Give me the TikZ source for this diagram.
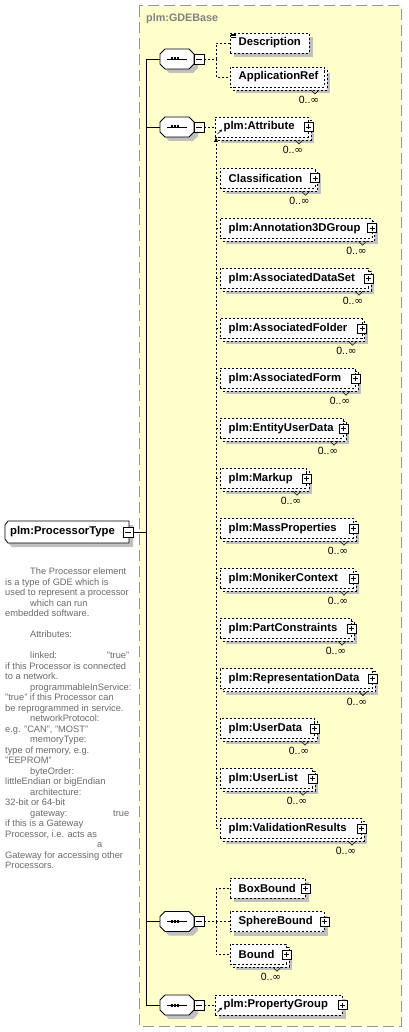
\documentclass[tikz,border=0pt]{standalone}
\usepackage{fontspec}
\setmainfont{Liberation Sans}
\newfontfamily\infsymfont{DejaVu Sans}
\usetikzlibrary{arrows.meta,calc}
\definecolor{bgyellow}{RGB}{255,255,204}
\definecolor{bgborder}{RGB}{150,150,150}
\definecolor{titlegray}{RGB}{128,128,128}
\definecolor{docgray}{RGB}{105,105,105}
\definecolor{shgray}{RGB}{192,192,192}
\newcommand\elfont{\fontsize{11.3}{13}\selectfont\bfseries}
\newcommand\titlefont{\fontsize{10.8}{13}\selectfont\bfseries}
\newcommand\multfont{\fontsize{10.5}{12}\selectfont}
\newcommand\docfont{\fontsize{9.3}{10.5}\selectfont}
\newcommand\multlabel{0..{\infsymfont ∞}}
\tikzset{
  elbox/.style={draw=black, line width=0.7pt, dash pattern=on 2pt off 2pt, fill=white, minimum height=20pt, inner sep=0pt, anchor=west},
  backbox/.style={draw=black, line width=0.7pt, dash pattern=on 2pt off 2pt, fill=white},
  eltext/.style={font=\elfont, anchor=west, inner sep=0pt},
  btnbase/.style={draw=black, solid, line width=0.6pt, fill=white, minimum size=9pt, inner sep=0pt},
  plusbtn/.style={btnbase, path picture={
      \draw[line width=0.6pt] ([yshift=-2pt]path picture bounding box.north) -- ([yshift=2pt]path picture bounding box.south);
      \draw[line width=0.6pt] ([xshift=2pt]path picture bounding box.west) -- ([xshift=-2pt]path picture bounding box.east);}},
  minusbtn/.style={btnbase, path picture={
      \draw[line width=0.6pt] ([xshift=2pt]path picture bounding box.west) -- ([xshift=-2pt]path picture bounding box.east);}},
  conn/.style={draw=black, line width=0.8pt},
  dconn/.style={draw=black, line width=0.7pt, dash pattern=on 2pt off 2pt},
  multtext/.style={font=\multfont, inner sep=0pt},
  outline/.style={draw=black, line width=0.8pt, fill=white},
}
% #1 name, #2 text, #3 left, #4 right, #5 cy, #6 multi, #7 ref arrow, #8 plus button
\newcommand\elem[8]{%
  \ifnum#6=1
    \fill[shgray] (#3+6,#5-4) rectangle (#4+6,#5+16);
    \draw[backbox] (#3+3,#5-7) rectangle (#4+3,#5+13);
  \else
    \fill[shgray] (#3+4,#5-6) rectangle (#4+4,#5+14);
  \fi
  \node[elbox, minimum width={#4-#3}] (#1) at (#3,#5) {};
  \node[eltext] (#1-t) at (#3+8.5,#5) {#2};
  \ifnum#8=1
    \node[plusbtn] (#1-b) at (#1.east) {};
  \fi
  \ifnum#6=1
    \draw[line width=0.6pt] (#4-13,#5+13) -- (#4-9,#5+17) -- (#4-5,#5+13);
    \node[multtext] (#1-m) at (#4-15,#5+23) {\multlabel};
  \fi
  \ifnum#7=1
    \draw[line width=0.7pt, -{Stealth[length=3pt,width=3pt]}] (#3+2.5,#5+7) -- (#3+7,#5+2.5);
  \fi
}
% sequence compositor: #1 name, #2 cy
\newcommand\seqc[2]{%
  \fill[shgray] (164,#2-1) -- (169,#2-6) -- (193,#2-6) -- (198,#2-1) -- (198,#2+9) -- (193,#2+14) -- (169,#2+14) -- (164,#2+9) -- cycle;
  \node[minimum width=34pt, minimum height=20pt, inner sep=0pt] (#1) at (177,#2) {};
  \draw[outline] (160,#2-5) -- (165,#2-10) -- (189,#2-10) -- (194,#2-5) -- (194,#2+5) -- (189,#2+10) -- (165,#2+10) -- (160,#2+5) -- cycle;
  \draw[line width=0.8pt] (167,#2) -- (187,#2);
  \fill (171,#2-1.5) rectangle (173,#2+1.5);
  \fill (174,#2-1.5) rectangle (176,#2+1.5);
  \fill (177,#2-1.5) rectangle (179,#2+1.5);
  \node[minusbtn, minimum size=10pt] (#1-b) at (199,#2) {};
}
\begin{document}
\begin{tikzpicture}[x=1pt,y=-1pt]
\useasboundingbox (0,0) rectangle (408,1032);
% background group
\fill[bgyellow] (139,6) rectangle (401,1026);
\draw[bgborder, line width=1pt, dash pattern=on 11pt off 5pt] (139,6) rectangle (401,1026);
\node[font=\titlefont, text=titlegray, anchor=west, inner sep=0pt] (title) at (146,19) {plm:GDEBase};

% root element
\fill[shgray] (8,529) -- (12,525) -- (133,525) -- (133,547) -- (12,547) -- (8,543) -- cycle;
\node[minimum width=124pt, minimum height=22pt, inner sep=0pt, anchor=west] (ptype) at (5,532) {};
\draw[outline] (5,525) -- (8,521) -- (129,521) -- (129,543) -- (8,543) -- (5,539) -- cycle;
\node[eltext] (ptype-t) at (10,532) {plm:ProcessorType};
\node[minusbtn, minimum size=10pt] (ptype-b) at (128,532) {};

% documentation
\node[anchor=north west, align=left, inner sep=0pt, font=\docfont, text=docgray] (doc) at (5,567.6) {%
\makebox[124pt][l]{\hspace*{25pt}The Processor element}\\
is a type of GDE which is\\
used to represent a processor\\
\hspace*{25pt}which can run\\
embedded software.\\
\mbox{}\\
\hspace*{25pt}Attributes:\\
\mbox{}\\
\makebox[124pt][l]{\hspace*{25pt}linked:\hfill"true"}\\
if this Processor is connected\\
to a network.\\
\hspace*{25pt}programmableInService:\\
"true" if this Processor can\\
be reprogrammed in service.\\
\hspace*{25pt}networkProtocol:\\
e.g. "CAN", "MOST"\\
\hspace*{25pt}memoryType:\\
type of memory, e.g.\\
"EEPROM"\\
\hspace*{25pt}byteOrder:\\
littleEndian or bigEndian\\
\hspace*{25pt}architecture:\\
32-bit or 64-bit\\
\makebox[124pt][l]{\hspace*{25pt}gateway:\hfill true}\\
if this is a Gateway\\
Processor, i.e. acts as\\
\hspace*{92pt}a\\
Gateway for accessing other\\
Processors.};

% trunk
\coordinate (tt) at (146,59);
\coordinate (tb) at (146,1005);
\draw[conn] (ptype-b.east) -- (ptype-b.east -| tt);
\draw[conn] (tt) -- (tb);

% compositors
\seqc{s1}{59}
\seqc{s2}{127}
\seqc{s3}{921.5}
\seqc{s4}{1005}
\draw[conn] (s1.west -| tt) -- (s1.west);
\draw[conn] (s2.west -| tt) -- (s2.west);
\draw[conn] (s3.west -| tt) -- (s3.west);
\draw[conn] (s4.west -| tt) -- (s4.west);

% sequence 1
\elem{desc}{Description}{230}{309}{43}{0}{0}{0}
\draw[line width=0.6pt] (231,34) -- (236,34) (231,35.8) -- (236,35.8) (231,37.6) -- (236,37.6);
\elem{appref}{ApplicationRef}{230}{324}{77}{1}{0}{0}
\coordinate (v1) at (216,59);
\draw[dconn] (s1-b.east) -- (v1);
\draw[dconn] (v1) |- (desc.west);
\draw[dconn] (v1) |- (appref.west);

% sequence 2
\elem{attr}{plm:Attribute}{215}{308}{127}{1}{1}{1}
\elem{cls}{Classification}{220}{314.5}{178.3}{1}{0}{1}
\elem{ann}{plm:Annotation3DGroup}{220}{371.5}{228.3}{1}{0}{1}
\elem{ads}{plm:AssociatedDataSet}{220}{368}{278.3}{1}{0}{1}
\elem{afo}{plm:AssociatedFolder}{220}{361.5}{328.3}{1}{0}{1}
\elem{afm}{plm:AssociatedForm}{220}{355}{378.3}{1}{0}{1}
\elem{eud}{plm:EntityUserData}{220}{343}{428.3}{1}{0}{1}
\elem{mkp}{plm:Markup}{220}{306}{478.3}{1}{0}{1}
\elem{msp}{plm:MassProperties}{220}{353}{528.3}{1}{0}{1}
\elem{mnc}{plm:MonikerContext}{220}{353}{578.3}{1}{0}{1}
\elem{pcs}{plm:PartConstraints}{220}{351}{628.3}{1}{0}{1}
\elem{rpd}{plm:RepresentationData}{220}{372}{678.6}{1}{0}{1}
\elem{usd}{plm:UserData}{220}{314}{728.3}{1}{0}{1}
\elem{usl}{plm:UserList}{220}{312}{778.3}{1}{0}{1}
\elem{vlr}{plm:ValidationResults}{220}{361}{828.3}{1}{0}{1}
\draw[dconn] (s2-b.east) -- (attr.west);
\coordinate (v2top) at (216,140);
\coordinate (v2bot) at (216,828.3);
\draw[dconn] (v2top) -- (v2bot);
\fill (216,137.5) -- (214,142) -- (218,142) -- cycle;
\foreach \n in {cls,ann,ads,afo,afm,eud,mkp,msp,mnc,pcs,rpd,usd,usl,vlr}{
  \draw[dconn] (\n.west -| v2top) -- (\n.west);
}

% sequence 3
\elem{boxb}{BoxBound}{230}{305}{888.3}{0}{0}{1}
\elem{sphb}{SphereBound}{230}{324}{921.5}{0}{0}{1}
\elem{bnd}{Bound}{230}{286}{954.3}{1}{0}{1}
\coordinate (v3) at (216,921.5);
\draw[dconn] (s3-b.east) -- (v3);
\draw[dconn] (v3) |- (boxb.west);
\draw[dconn] (v3) |- (sphb.west);
\draw[dconn] (v3) |- (bnd.west);

% sequence 4
\elem{pgr}{plm:PropertyGroup}{215}{342}{1005}{0}{1}{1}
\draw[dconn] (s4-b.east) -- (pgr.west);
\end{tikzpicture}
\end{document}
